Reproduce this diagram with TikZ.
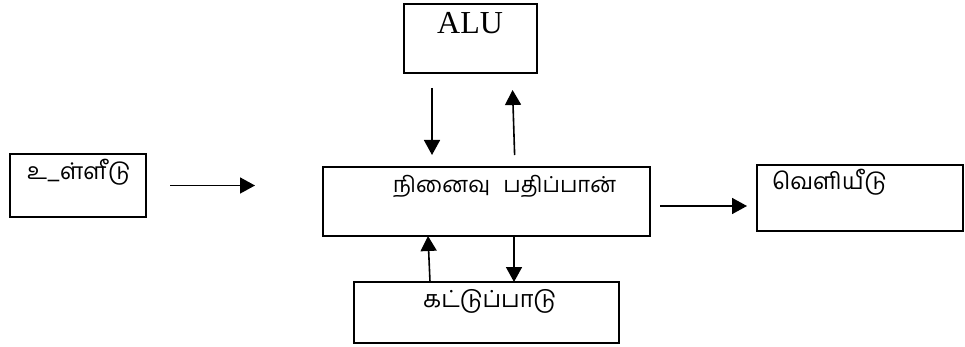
\documentclass[tikz,border=0pt]{standalone}
\usepackage{fontspec}
\setmainfont{Liberation Serif}
\newfontfamily\tamilfont[Script=Tamil]{Hind Madurai}
\usetikzlibrary{arrows.meta}

\begin{document}
\begin{tikzpicture}[x=1pt,y=-1pt]
\tikzset{
  blk/.style={draw,line width=1.5pt,inner sep=0pt,outer sep=0pt},
  lbl/.style={inner sep=0pt,anchor=base west,font=\tamilfont\fontsize{23}{26}\selectfont},
  arr/.style={line width=1.6pt,-{Triangle[length=15pt,width=16pt]}}
}
\useasboundingbox (0,0) rectangle (965,347);
% boxes
\node[blk,minimum width=136pt,minimum height=63pt] (inbox) at (78,185.5) {};
\node[blk,minimum width=327pt,minimum height=69pt] (membox) at (486.5,201.5) {};
\node[blk,minimum width=206pt,minimum height=66pt] (outbox) at (860,198) {};
\node[blk,minimum width=133pt,minimum height=69pt] (alubox) at (470.5,38.5) {};
\node[blk,minimum width=265pt,minimum height=61pt] (ctlbox) at (486.5,312.5) {};
% texts
\node[lbl] (inlbl) at (27,180) {உ\_ள்ளீடு};
\node[lbl,font=\tamilfont\fontsize{22}{25}\selectfont] (memlbl) at (393,193) {நினைவு\hspace{8pt} பதிப்பான்};
\node[lbl] (outlbl) at (772,190) {வெளியீடு};
\node[lbl,font=\fontsize{32}{36}\selectfont] (alulbl) at (437,34) {ALU};
\node[lbl,font=\tamilfont\fontsize{23.5}{26}\selectfont] (ctllbl) at (423,307) {கட்டுப்பாடு};
% arrows
\draw[arr,shorten <=24pt,shorten >=68pt] (inbox.east) -- (inbox.east -| membox.west);
\draw[arr,shorten <=10pt,shorten >=10pt] ([yshift=-4.5pt]membox.east) -- ([yshift=-4.5pt]membox.east -| outbox.west);
\draw[arr,shorten <=15pt,shorten >=12pt] ([xshift=-38.5pt]alubox.south) -- ([xshift=-54.5pt]membox.north);
\draw[arr,shorten <=12pt,shorten >=17pt] ([xshift=28.5pt]membox.north) -- ([xshift=41.5pt]alubox.south);
\draw[arr] ([xshift=-56.5pt]ctlbox.north) -- ([xshift=-58.5pt]membox.south);
\draw[arr] ([xshift=27.5pt]membox.south) -- ([xshift=27.5pt]ctlbox.north);
\end{tikzpicture}
\end{document}
